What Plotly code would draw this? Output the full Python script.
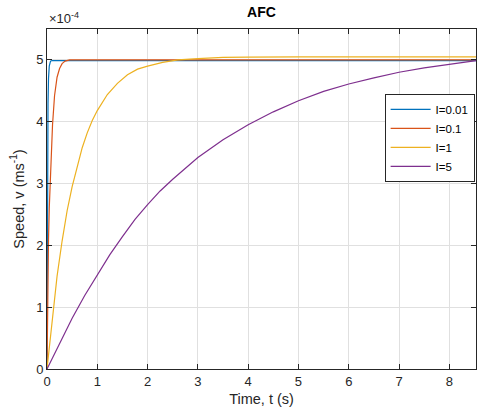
import numpy as np
import plotly.graph_objects as go

# values, speed in units of 1e-4 m/s
t_001 = [0, 0.005, 0.01, 0.015, 0.02, 0.03, 0.045, 0.07, 0.1, 8.53]
v_001 = [0, 1.8, 3.0, 3.8, 4.3, 4.7, 4.9, 4.98, 4.99, 4.99]

t_01 = [0, 0.01, 0.02, 0.03, 0.045, 0.06, 0.085, 0.11, 0.15, 0.2, 0.25, 0.3, 0.36, 0.45, 8.53]
v_01 = [0, 0.9, 1.6, 2.1, 2.6, 3.0, 3.5, 3.95, 4.42, 4.72, 4.86, 4.94, 4.98, 5.0, 5.0]

t_1 = [0, 0.1, 0.2, 0.3, 0.4, 0.5, 0.6, 0.7, 0.8, 0.9, 1.0, 1.2, 1.4, 1.6, 1.8, 2.0, 2.3, 2.6, 3.0, 3.5, 4.0, 5.0, 8.53]
v_1 = [0, 0.81, 1.50, 2.07, 2.56, 2.95, 3.29, 3.58, 3.82, 4.02, 4.18, 4.44, 4.62, 4.76, 4.85, 4.9, 4.96, 5.0, 5.02, 5.04, 5.045, 5.05, 5.05]

t_5 = [0, 0.25, 0.5, 0.75, 1.0, 1.25, 1.5, 1.75, 2.0, 2.25, 2.5, 3.0, 3.5, 4.0, 4.5, 5.0, 5.5, 6.0, 6.5, 7.0, 7.5, 8.0, 8.53]
v_5 = [0, 0.42, 0.82, 1.19, 1.53, 1.85, 2.14, 2.42, 2.66, 2.88, 3.07, 3.42, 3.71, 3.95, 4.16, 4.34, 4.49, 4.61, 4.71, 4.80, 4.87, 4.93, 4.99]

labels = ["I=0.01", "I=0.1", "I=1", "I=5"]
colors = ["#0072BD", "#D95319", "#EDB120", "#7E2F8E"]
y_ticks = [0, 1, 2, 3, 4, 5]
x_ticks = [0, 1, 2, 3, 4, 5, 6, 7, 8]

series = [(t_001, v_001), (t_01, v_01), (t_1, v_1), (t_5, v_5)]

fig = go.Figure()
for (t, v), name, c in zip(series, labels, colors):
    fig.add_trace(go.Scatter(x=t, y=np.array(v) * 1e-4, mode="lines", name=name,
                             line=dict(color=c, width=1.2)))

axis_common = dict(showline=True, linecolor="#262626", linewidth=1, mirror="ticks",
                   ticks="inside", ticklen=5, tickcolor="#262626", showgrid=True,
                   gridcolor="#E0E0E0", gridwidth=1, zeroline=False, automargin=False,
                   tickfont=dict(family="Liberation Sans, Arial", size=13, color="#262626"))

fig.update_layout(
    width=483, height=411,
    margin=dict(l=47, r=7, t=29, b=42, autoexpand=False),
    paper_bgcolor="white", plot_bgcolor="white",
    font=dict(family="Liberation Sans, Arial", color="#262626"),
    title=dict(text="<b>AFC</b>", x=0.5 * (47 + 476) / 483, xanchor="center", y=1 - 12 / 411, yanchor="middle",
               font=dict(size=14, color="black")),
    xaxis=dict(range=[0, 8.53], tickvals=x_ticks, ticktext=[str(v) for v in x_ticks],
               title=dict(text="Time, t (s)", font=dict(size=14.5), standoff=6), **axis_common),
    yaxis=dict(range=[0, 5.5e-4], tickvals=[v * 1e-4 for v in y_ticks], ticktext=[str(v) for v in y_ticks],
               title=dict(text="Speed, v (ms<sup>-1</sup>)", font=dict(size=14.5), standoff=8), **axis_common),
    legend=dict(x=0.787, y=0.809, xanchor="left", yanchor="top", bgcolor="white",
                bordercolor="#262626", borderwidth=1, font=dict(size=11.5, color="black"),
                tracegroupgap=0, itemwidth=40),
    showlegend=True,
    annotations=[dict(text="×10<sup>-4</sup>", xref="paper", yref="paper", x=0, y=1,
                      xanchor="left", yanchor="bottom", yshift=1, showarrow=False,
                      font=dict(size=13, color="#262626"))],
)

fig.write_html("out.html", config={"displayModeBar": False},
               post_script="document.body.style.margin='0';document.body.style.overflow='hidden';")
